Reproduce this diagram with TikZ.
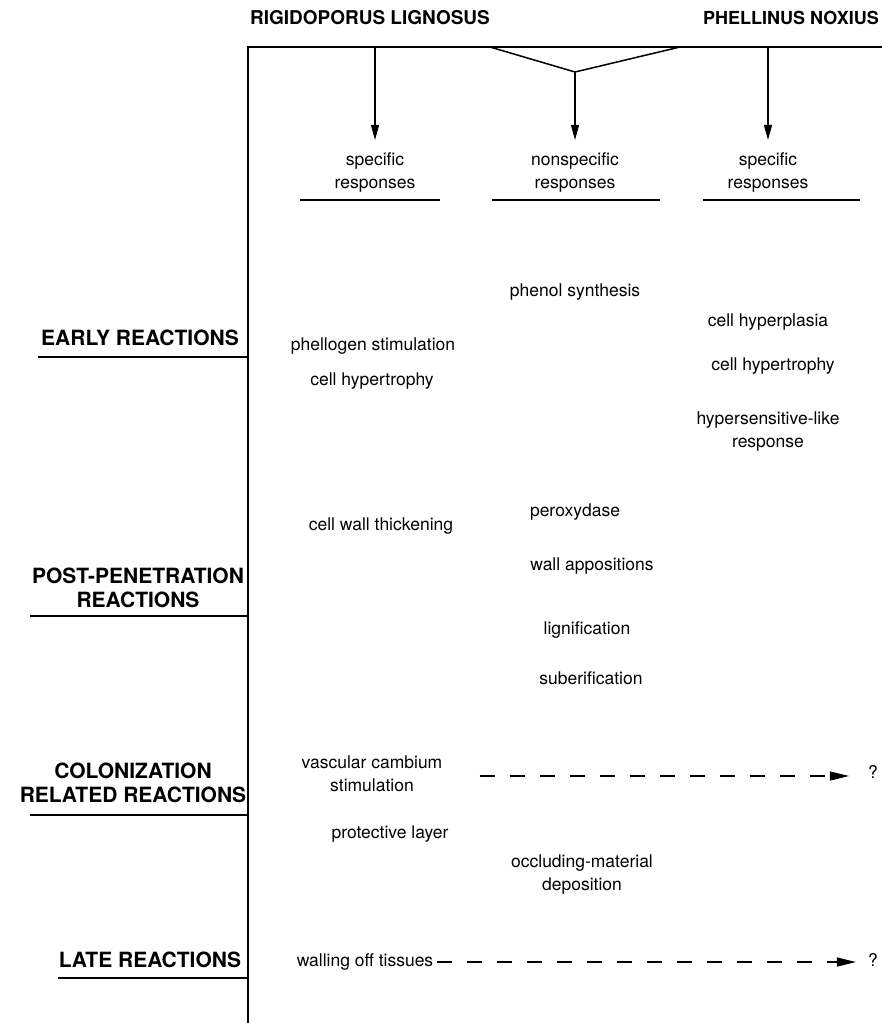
\documentclass[tikz,border=0pt]{standalone}
\usepackage{fontspec}
\setmainfont{TeX Gyre Heros}
\usetikzlibrary{arrows.meta, positioning}
\tikzset{
  txt/.style={font=\fontsize{17.5}{23}\selectfont, align=center, inner sep=1pt},
  hdr/.style={font=\fontsize{19}{23}\selectfont\bfseries, align=center, inner sep=1pt},
  stage/.style={font=\fontsize{21}{23.5}\selectfont\bfseries, align=center, inner sep=1pt},
  axis/.style={line width=2.4pt},
  rule/.style={line width=1.5pt},
  lrule/.style={line width=2.4pt},
  arr/.style={-{Triangle[length=15pt, width=8pt]}, line width=1.2pt},
  darr/.style={-{Triangle[length=19pt, width=9pt]}, line width=1.3pt, dash pattern=on 15pt off 15pt}
}

\begin{document}
\begin{tikzpicture}[x=1pt, y=-1pt]
    \useasboundingbox (0,0) rectangle (882,1023);
    % fungi
    \node[hdr] (rl) at (370,18) {RIGIDOPORUS LIGNOSUS};
    \node[hdr, font=\fontsize{18}{23}\selectfont\bfseries] (pn) at (791,18) {PHELLINUS NOXIUS};

    % frame
    \coordinate (o) at (248,47);
    \coordinate (e) at (882,47);
    \coordinate (b) at (248,1023);
    \coordinate (v1) at (490,47);
    \coordinate (vx) at (575,72);
    \coordinate (v2) at (680,47);
    \coordinate (a1) at (375,47);
    \coordinate (a3) at (768,47);
    \draw[axis] (b) -- (o) -- (e);
    \draw[rule] (v1) -- (vx) -- (v2);

    % responses
    \node[txt] (s1) at (375,172) {specific\\responses};
    \node[txt] (ns) at (575,172) {nonspecific\\responses};
    \node[txt] (s2) at (768,172) {specific\\responses};
    \draw[arr] (a1) -- ([yshift=11pt]s1.north);
    \draw[arr] (vx) -- ([yshift=11pt]ns.north);
    \draw[arr] (a3) -- ([yshift=11pt]s2.north);
    \draw[rule] (300,200) -- (440,200);
    \draw[rule] (492,200) -- (660,200);
    \draw[rule] (703,200) -- (860,200);

    % stages
    \node[stage] (er) at (140,338) {EARLY REACTIONS};
    \node[stage] (pp) at (138,588) {POST-PENETRATION\\REACTIONS};
    \node[stage] (cr) at (133,783) {COLONIZATION\\RELATED REACTIONS};
    \node[stage] (lr) at (150,960) {LATE REACTIONS};
    \draw[lrule] (38,357) -- (248,357);
    \draw[lrule] (30,616) -- (248,616);
    \draw[lrule] (30,815) -- (248,815);
    \draw[lrule] (58,978) -- (248,978);

    % early
    \node[txt] (ph) at (575,292) {phenol synthesis};
    \node[txt] (hp) at (768,322) {cell hyperplasia};
    \node[txt] (pg) at (373,346) {phellogen stimulation};
    \node[txt] (ht1) at (372,381) {cell hypertrophy};
    \node[txt] (ht2) at (773,366) {cell hypertrophy};
    \node[txt] (hs) at (768,432) {hypersensitive-like\\response};

    % post-penetration
    \node[txt] (cw) at (381,526) {cell wall thickening};
    \node[txt] (px) at (575,512) {peroxydase};
    \node[txt] (wa) at (592,566) {wall appositions};
    \node[txt] (lg) at (587,630) {lignification};
    \node[txt] (sb) at (591,678) {suberification};

    % colonization
    \node[txt] (vc) at (372,774) {vascular cambium\\stimulation};
    \node[txt] (q1) at (873,772) {?};
    \draw[darr, shorten <=36pt, shorten >=18pt] (vc.east |- 0,776) -- (q1.west |- 0,776);
    \node[txt] (pl) at (390,834) {protective layer};
    \node[txt] (om) at (582,875) {occluding-material\\deposition};

    % late
    \node[txt] (wt) at (365,962) {walling off tissues};
    \node[txt] (q2) at (873,960) {?};
    \draw[darr, shorten <=3pt, shorten >=11pt] (wt.east |- 0,962) -- (q2.west |- 0,962);
  \end{tikzpicture}
\end{document}
